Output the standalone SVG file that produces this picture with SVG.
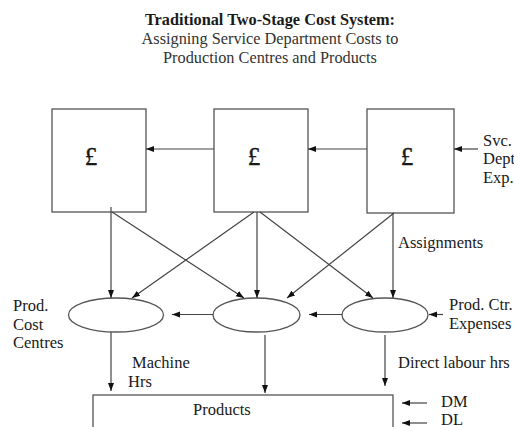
<svg xmlns="http://www.w3.org/2000/svg" width="514" height="427" viewBox="0 0 514 427">
  <style>
    text { font-family: "Liberation Serif", "Times New Roman", serif; fill: #1a1a1a; font-size: 16.5px; }
    .title { font-weight: bold; font-size: 16.3px; text-anchor: middle; }
    .sub { font-size: 16.3px; text-anchor: middle; fill: #333; }
    .pound { font-size: 25px; text-anchor: middle; stroke: #1a1a1a; stroke-width: 0.4; }
    .shape { fill: #fff; stroke: #555; stroke-width: 1.3; }
    .conn line { stroke: #444; stroke-width: 1.2; marker-end: url(#arr); }
  </style>
  <defs>
    <marker id="arr" viewBox="0 0 8 8" refX="8" refY="4" markerWidth="8" markerHeight="8" markerUnits="userSpaceOnUse" orient="auto">
      <path d="M0,1 L8,4 L0,7 Z" fill="#111"/>
    </marker>
  </defs>
  <rect width="514" height="427" fill="#fff"/>

  <!-- heading -->
  <g id="heading">
    <text class="title" x="270" y="25">Traditional Two-Stage Cost System:</text>
    <text class="sub" x="270" y="44">Assigning Service Department Costs to</text>
    <text class="sub" x="270" y="63">Production Centres and Products</text>
  </g>

  <!-- service departments -->
  <g id="svc1">
    <rect class="shape" x="52" y="109" width="94" height="103"/>
    <text class="pound" x="91" y="165">£</text>
  </g>
  <g id="svc2">
    <rect class="shape" x="214" y="109" width="94" height="103"/>
    <text class="pound" x="254" y="165">£</text>
  </g>
  <g id="svc3">
    <rect class="shape" x="367" y="109" width="87" height="104"/>
    <text class="pound" x="407" y="165">£</text>
  </g>

  <!-- production cost centres -->
  <g id="pc1"><ellipse class="shape" cx="116" cy="315" rx="47.5" ry="17"/></g>
  <g id="pc2"><ellipse class="shape" cx="256.5" cy="315" rx="43.5" ry="17"/></g>
  <g id="pc3"><ellipse class="shape" cx="385" cy="315" rx="43" ry="17"/></g>

  <!-- products -->
  <g id="products">
    <rect class="shape" x="93" y="395" width="300" height="60"/>
    <text x="193" y="415">Products</text>
  </g>

  <!-- connectors -->
  <g id="connectors" class="conn">
    <line x1="214" y1="149" x2="146" y2="149"/>
    <line x1="367" y1="149" x2="308" y2="149"/>
    <line x1="478" y1="149" x2="454" y2="149"/>

    <line x1="111" y1="207" x2="111" y2="298"/>
    <line x1="112" y1="212" x2="244" y2="298"/>
    <line x1="254" y1="212" x2="132" y2="298"/>
    <line x1="257" y1="212" x2="257" y2="298"/>
    <line x1="260" y1="212" x2="373" y2="298"/>
    <line x1="394" y1="213" x2="287" y2="298"/>
    <line x1="393" y1="213" x2="393" y2="298"/>

    <line x1="342" y1="314.5" x2="309" y2="314.5"/>
    <line x1="213" y1="314.5" x2="172" y2="314.5"/>
    <line x1="443" y1="314.5" x2="429" y2="314.5"/>

    <line x1="111" y1="332" x2="111" y2="391"/>
    <line x1="265" y1="335" x2="265" y2="393"/>
    <line x1="385" y1="335" x2="385" y2="386"/>

    <line x1="427" y1="403" x2="402" y2="403"/>
    <line x1="427" y1="423" x2="402" y2="423"/>
  </g>

  <!-- labels -->
  <g id="labels">
    <text x="483" y="146">Svc.</text>
    <text x="483" y="164">Dept</text>
    <text x="483" y="183">Exp.</text>
    <text x="398" y="248">Assignments</text>
    <text x="13" y="311">Prod.</text>
    <text x="13" y="330">Cost</text>
    <text x="13" y="348">Centres</text>
    <text x="449" y="310">Prod. Ctr.</text>
    <text x="449" y="329">Expenses</text>
    <text x="132" y="368">Machine</text>
    <text x="128" y="387">Hrs</text>
    <text x="398" y="368">Direct labour hrs</text>
    <text x="441" y="407">DM</text>
    <text x="441" y="425">DL</text>
  </g>
</svg>
